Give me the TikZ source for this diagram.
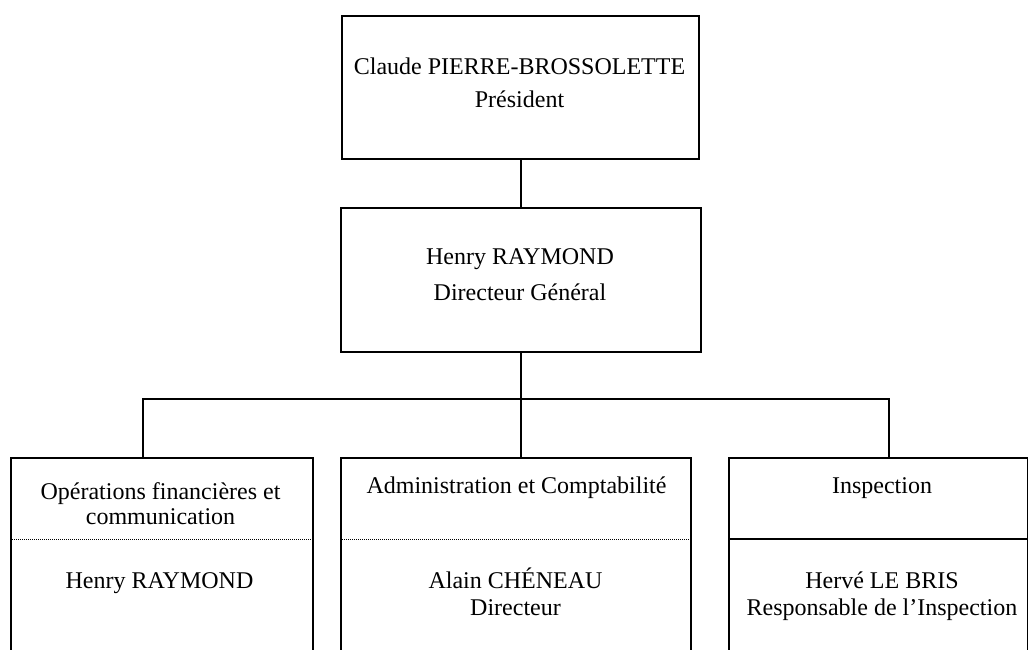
\documentclass[tikz,border=0pt]{standalone}
\usepackage{fontspec}
\setmainfont{Liberation Serif}
\begin{document}
\begin{tikzpicture}[x=1pt,y=-1pt,
  box/.style={draw, line width=1.6pt, inner sep=0pt, anchor=north west},
  lbl/.style={anchor=base, inner sep=0pt, font=\fontsize{24}{26}\selectfont},
  link/.style={line width=1.6pt},
  divdot/.style={line width=1pt, dash pattern=on 1pt off 1pt},
  divsolid/.style={line width=1.6pt}]
\useasboundingbox (0,0) rectangle (1028,650);
\clip (0,0) rectangle (1028,650);
\fill[white] (0,0) rectangle (1028,650);

% boxes
\node[box, minimum width=357pt, minimum height=143pt] (pres) at (341,15) {};
\node[box, minimum width=360pt, minimum height=144pt] (dg) at (340,207) {};
\node[box, minimum width=302pt, minimum height=260pt] (ops) at (10,457) {};
\node[box, minimum width=350pt, minimum height=260pt] (adm) at (340,457) {};
\node[box, minimum width=299pt, minimum height=260pt] (insp) at (728,457) {};

% dividers
\draw[divdot] (ops.north west |- 0,539) -- (ops.north east |- 0,539);
\draw[divdot] (adm.north west |- 0,539) -- (adm.north east |- 0,539);
\draw[divsolid] (insp.north west |- 0,539) -- (insp.north east |- 0,539);

% connectors
\coordinate (j1) at (143,399);
\coordinate (j3) at (889,399);
\draw[link] (pres.south) -- (dg.south |- pres.south) -- (dg.north);
\draw[link] (dg.south) -- (dg.south |- adm.north);
\draw[link] (j1 |- ops.north) -- (j1) -- (j3) -- (j3 |- insp.north);

% texts
\node[lbl] (t1) at (519.5,75) {Claude PIERRE-BROSSOLETTE};
\node[lbl] (t2) at (519.5,108) {Président};
\node[lbl] (t3) at (520,264) {Henry RAYMOND};
\node[lbl] (t4) at (520,300) {Directeur Général};
\node[lbl] (t5) at (160.5,499) {Opérations financières et};
\node[lbl] (t6) at (160.5,524) {communication};
\node[lbl] (t7) at (159.5,588) {Henry RAYMOND};
\node[lbl] (t8) at (516.5,493) {Administration et Comptabilité};
\node[lbl] (t9) at (515.5,588) {Alain CHÉNEAU};
\node[lbl] (t10) at (515.5,615) {Directeur};
\node[lbl] (t11) at (882,493) {Inspection};
\node[lbl] (t12) at (882,588) {Hervé LE BRIS};
\node[lbl] (t13) at (882,615) {Responsable de l’Inspection};
\end{tikzpicture}
\end{document}
